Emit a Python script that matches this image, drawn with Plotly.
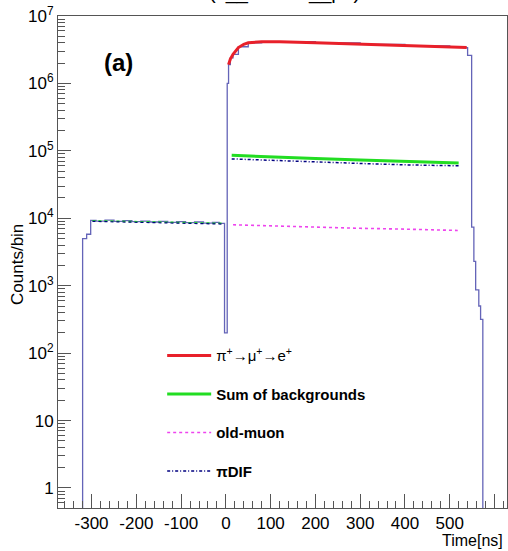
import plotly.graph_objects as go

# ---------------- data ----------------
# total measured spectrum (histogram, bin left edges in ns, counts/bin)
total_t = [-375, -320, -311, -302, -290, -270, -250, -230, -210, -190, -170, -150,
           -130, -110, -90, -70, -50, -30, -15, -3, 3, 6, 10, 16, 28, 50, 80,
           120, 200, 300, 400, 500, 530, 538, 540, 549, 554, 558, 565, 569, 574, 628]
total_c = [0.1, 5000, 5800, 9300, 9100, 9400, 9000, 9200, 8900, 9100, 8800, 9000,
           8700, 8900, 8600, 8800, 8500, 8700, 8400, 200, 1.0e6, 1.9e6, 2.4e6, 2.7e6, 3.5e6, 4.0e6, 4.15e6,
           4.15e6, 4.0e6, 3.8e6, 3.6e6, 3.45e6, 3.4e6, 3.4e6, 2.6e6, 7400, 2300, 870, 500, 316, 0.1, 0.1]

# pi+ -> mu+ -> e+ signal
sig_t = [6, 10, 16, 28, 40, 50, 80, 120, 200, 300, 400, 500, 538]
sig_c = [1.9e6, 2.3e6, 2.7e6, 3.4e6, 3.8e6, 4.0e6, 4.15e6, 4.15e6, 4.0e6, 3.8e6, 3.6e6, 3.45e6, 3.4e6]

# sum of backgrounds
bkg_t = [13, 100, 200, 300, 400, 520]
bkg_c = [8.6e4, 8.1e4, 7.7e4, 7.3e4, 7.0e4, 6.6e4]
bkg_pre_t = [-298, -250, -200, -150, -100, -50, -4]
bkg_pre_c = [9200, 9100, 9000, 8900, 8800, 8600, 8400]

# old-muon
old_t = [16, 100, 200, 300, 400, 518]
old_c = [8000, 7700, 7400, 7100, 6900, 6600]

# pi decay-in-flight
dif_t = [13, 100, 200, 300, 400, 520]
dif_c = [7.6e4, 7.2e4, 6.8e4, 6.5e4, 6.2e4, 6.0e4]
dif_pre_t = [-298, -250, -200, -150, -100, -50, -4]
dif_pre_c = [9000, 8900, 8800, 8700, 8600, 8400, 8200]

y_tickvals = [1, 10, 100, 1e3, 1e4, 1e5, 1e6, 1e7]
y_ticktext = ["1", "10", "10<sup>2</sup>", "10<sup>3</sup>", "10<sup>4</sup>",
              "10<sup>5</sup>", "10<sup>6</sup>", "10<sup>7</sup>"]
x_tickvals = [-300, -200, -100, 0, 100, 200, 300, 400, 500, 600]
x_ticktext = ["-300", "-200", "-100", "0", "100", "200", "300", "400", "500", "600"]

FONT = "Liberation Sans, Arial, sans-serif"

fig = go.Figure()
fig.add_trace(go.Scatter(x=total_t, y=total_c, mode="lines", line_shape="hv",
                         line=dict(color="#6464b8", width=1.3), showlegend=False))
fig.add_trace(go.Scatter(x=bkg_pre_t, y=bkg_pre_c, mode="lines",
                         line=dict(color="#22dd22", width=1.5, dash="dot"), showlegend=False))
fig.add_trace(go.Scatter(x=dif_pre_t, y=dif_pre_c, mode="lines",
                         line=dict(color="#000080", width=1.2, dash="dot"), showlegend=False))
fig.add_trace(go.Scatter(x=sig_t, y=sig_c, mode="lines", name="π<sup>+</sup>→μ<sup>+</sup>→e<sup>+</sup>",
                         legendgroup="a", line=dict(color="#e8202a", width=3)))
fig.add_trace(go.Scatter(x=bkg_t, y=bkg_c, mode="lines", name="<b>Sum of backgrounds</b>",
                         legendgroup="b", line=dict(color="#22dd22", width=3)))
fig.add_trace(go.Scatter(x=old_t, y=old_c, mode="lines", name="<b>old-muon</b>",
                         legendgroup="c", line=dict(color="#ee44ee", width=1.6, dash="dot")))
fig.add_trace(go.Scatter(x=dif_t, y=dif_c, mode="lines", name="<b>πDIF</b>",
                         legendgroup="d", line=dict(color="#000080", width=1.5, dash="3px,2px,1px,2px")))

minor_y = [m * 10 ** d for d in range(-1, 7) for m in range(2, 10)]

fig.update_layout(
    width=508, height=551,
    margin=dict(l=58, r=1, t=16, b=43),
    paper_bgcolor="white", plot_bgcolor="white",
    font=dict(family=FONT, size=17, color="black"),
    legend=dict(x=0.232, y=0.343, xanchor="left", yanchor="top",
                bgcolor="rgba(0,0,0,0)", font=dict(size=15, family=FONT),
                tracegroupgap=16, traceorder="grouped", itemwidth=44),
    xaxis=dict(range=[-375, 628], showgrid=False, zeroline=False,
               showline=True, linecolor="#555", linewidth=1, mirror=True,
               ticks="inside", ticklen=14, tickcolor="#555",
               tickvals=x_tickvals, ticktext=x_ticktext,
               minor=dict(ticks="inside", ticklen=7, dtick=20, tick0=0, tickcolor="#555", showgrid=False),
               tickfont=dict(size=17)),
    yaxis=dict(type="log", range=[-0.297, 7], showgrid=False, zeroline=False,
               showline=True, linecolor="#555", linewidth=1, mirror=True,
               ticks="inside", ticklen=13, tickcolor="#555",
               tickvals=y_tickvals, ticktext=y_ticktext,
               minor=dict(ticks="inside", ticklen=7, tickvals=minor_y, tickcolor="#555", showgrid=False),
               tickfont=dict(size=17)),
)

fig.add_annotation(text="Counts/bin", xref="paper", yref="paper",
                   x=(18 - 58) / 449, y=0.494, textangle=-90, showarrow=False,
                   xanchor="center", yanchor="middle", font=dict(size=17))
fig.add_annotation(text="Time[ns]", xref="paper", yref="paper",
                   x=(504 - 58) / 449, y=(508 - 550) / 492, showarrow=False,
                   xanchor="right", yanchor="bottom", borderpad=0, font=dict(size=16))
fig.add_annotation(text="<b>(a)</b>", xref="paper", yref="paper",
                   x=0.134, y=0.9065, showarrow=False,
                   xanchor="center", yanchor="middle", font=dict(size=24))
fig.add_annotation(text="(c__Etotals__pe)", xref="paper", yref="paper",
                   x=(207 - 58) / 449, y=1, yshift=10, showarrow=False,
                   xanchor="left", yanchor="bottom", font=dict(size=20))

fig.write_html("out.html")
